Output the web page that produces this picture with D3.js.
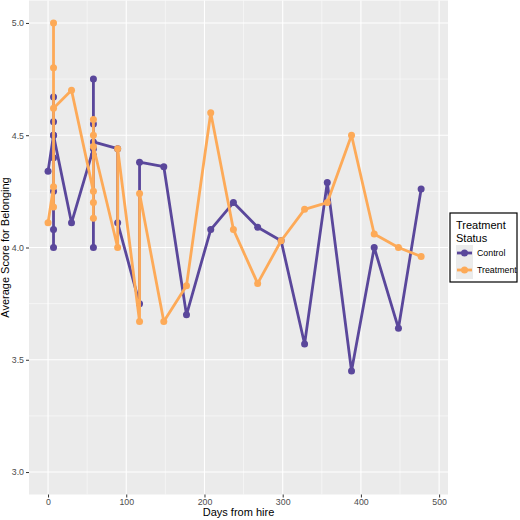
<!DOCTYPE html>
<html>
<head>
<meta charset="utf-8">
<script src="https://d3js.org/d3.v7.min.js"></script>
<style>body{margin:0;background:#fff}</style>
</head>
<body>
<svg id="chart" width="520" height="520"></svg>
<script>
// Control group: days from hire and average belonging score (plot order)
var controlDays = [0,7,7,7,7,7,7,7,7,30,58,58,58,58,58,58,89,89,117,117,148,177,208,237,268,298,328,357,388,417,448,477]
var controlVals = [4.34,4.5,4.0,4.08,4.25,4.4,4.56,4.67,4.5,4.11,4.44,4.0,4.41,4.55,4.75,4.47,4.44,4.11,3.75,4.38,4.36,3.70,4.08,4.20,4.09,4.03,3.57,4.29,3.45,4.0,3.64,4.26]
// Treatment group
var treatDays = [0,7,7,7,7,7,30,58,58,58,58,58,58,89,89,117,117,148,177,208,237,268,298,328,357,388,417,448,477]
var treatVals = [4.11,4.27,4.18,5.0,4.8,4.62,4.70,4.25,4.13,4.20,4.50,4.57,4.45,4.0,4.44,3.67,4.24,3.67,3.83,4.60,4.08,3.84,4.03,4.17,4.20,4.50,4.06,4.0,3.96]
var xTicks = [0,100,200,300,400,500]
var yTicks = [3.0,3.5,4.0,4.5,5.0]
var groups = ["Control","Treatment"]
var colors = ["#5A479B","#FDAA58"]

var svg = d3.select("#chart")
var L = 29, R = 448, T = 0.5, B = 494.5
var x = d3.scaleLinear().domain([-24.35, 511.35]).range([L, R])
var y = d3.scaleLinear().domain([2.9, 5.1]).range([B, T])

svg.append("rect").attr("x", L).attr("y", T).attr("width", R - L).attr("height", B - T).attr("fill", "#EBEBEB")
var minorX = d3.range(50, 500, 100), minorY = [3.25,3.75,4.25,4.75]
minorX.forEach(function(d){ svg.append("line").attr("x1",x(d)).attr("x2",x(d)).attr("y1",T).attr("y2",B).attr("stroke","#fff").attr("stroke-width",0.5) })
minorY.forEach(function(d){ svg.append("line").attr("y1",y(d)).attr("y2",y(d)).attr("x1",L).attr("x2",R).attr("stroke","#fff").attr("stroke-width",0.5) })
xTicks.forEach(function(d){ svg.append("line").attr("x1",x(d)).attr("x2",x(d)).attr("y1",T).attr("y2",B).attr("stroke","#fff").attr("stroke-width",1.1) })
yTicks.forEach(function(d){ svg.append("line").attr("y1",y(d)).attr("y2",y(d)).attr("x1",L).attr("x2",R).attr("stroke","#fff").attr("stroke-width",1.1) })

var xa = svg.append("g").attr("transform", "translate(0," + B + ")")
  .call(d3.axisBottom(x).tickValues(xTicks).tickSize(3).tickPadding(1.5).tickFormat(d3.format("d")))
var ya = svg.append("g").attr("transform", "translate(" + L + ",0)")
  .call(d3.axisLeft(y).tickValues(yTicks).tickSize(3).tickPadding(2).tickFormat(d3.format(".1f")))
;[xa, ya].forEach(function(a){
  a.select(".domain").remove()
  a.selectAll("line").attr("stroke", "#333")
  a.selectAll("text").attr("fill", "#4D4D4D").style("font-family", "Liberation Sans, Arial").style("font-size", "8.8px")
})

svg.append("text").attr("x", (L + R) / 2).attr("y", 516).attr("text-anchor", "middle")
  .style("font-family", "Liberation Sans, Arial").style("font-size", "11px").text("Days from hire")
svg.append("text").attr("transform", "translate(9," + (T + B) / 2 + ") rotate(-90)").attr("text-anchor", "middle")
  .style("font-family", "Liberation Sans, Arial").style("font-size", "11px").text("Average Score for Belonging")

var line = d3.line().x(function(d){ return x(d[0]) }).y(function(d){ return y(d[1]) })
var series = [d3.zip(controlDays, controlVals), d3.zip(treatDays, treatVals)]
series.forEach(function(s, i){
  svg.append("path").datum(s).attr("d", line).attr("fill", "none").attr("stroke", colors[i]).attr("stroke-width", 2.8).attr("stroke-linejoin", "round")
  svg.selectAll(null).data(s).enter().append("circle")
    .attr("cx", function(d){ return x(d[0]) }).attr("cy", function(d){ return y(d[1]) })
    .attr("r", 3.5).attr("fill", colors[i])
})

// legend
var lg = svg.append("g").attr("transform", "translate(450,213)")
lg.append("rect").attr("width", 67).attr("height", 69).attr("fill", "#fff").attr("stroke", "#000").attr("stroke-width", 1.2)
lg.append("text").attr("x", 6).attr("y", 16).style("font-family", "Liberation Sans, Arial").style("font-size", "11px").text("Treatment")
lg.append("text").attr("x", 6).attr("y", 29).style("font-family", "Liberation Sans, Arial").style("font-size", "11px").text("Status")
groups.forEach(function(g, i){
  var yy = 40 + i * 17
  lg.append("rect").attr("x", 6).attr("y", yy - 8).attr("width", 17).attr("height", 17).attr("fill", "#EBEBEB")
  lg.append("line").attr("x1", 7).attr("x2", 22).attr("y1", yy).attr("y2", yy).attr("stroke", colors[i]).attr("stroke-width", 2.8)
  lg.append("circle").attr("cx", 14.5).attr("cy", yy).attr("r", 3.5).attr("fill", colors[i])
  lg.append("text").attr("x", 27).attr("y", yy + 3).style("font-family", "Liberation Sans, Arial").style("font-size", "8.8px").text(g)
})
</script>
</body>
</html>
